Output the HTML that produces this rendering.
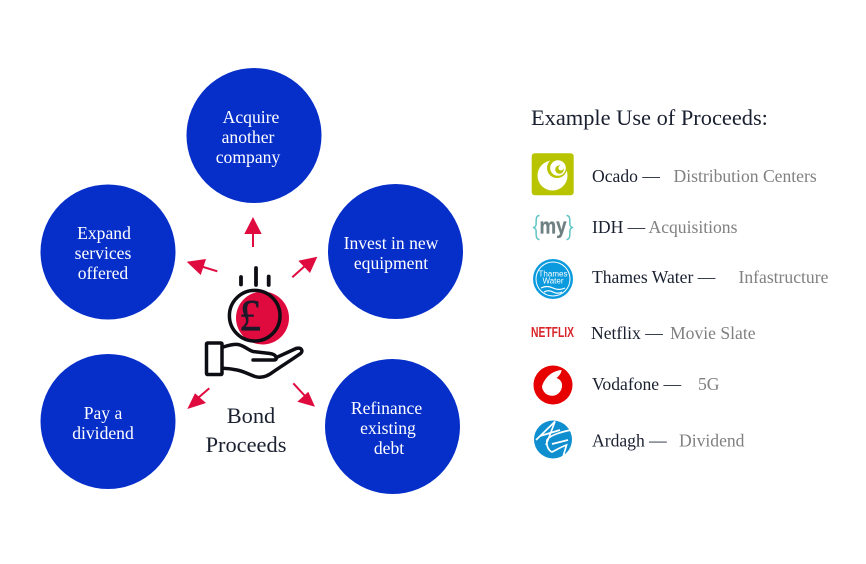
<!DOCTYPE html>
<html><head><meta charset="utf-8">
<style>
html,body{margin:0;padding:0;background:#fff}
svg{display:block}
text{font-family:"Liberation Serif",serif}
.c{fill:#fff;font-size:17.6px;text-anchor:middle}
.k{fill:#1a2030;font-size:17.6px}
.g{fill:#808080;font-size:17.6px}
</style></head><body>
<svg width="866" height="564" viewBox="0 0 866 564" xmlns="http://www.w3.org/2000/svg">
<rect width="866" height="564" fill="#fff"/>
<g fill="#062fc9">
<circle cx="254" cy="135.500" r="67.500"/>
<circle cx="108" cy="252" r="67.500"/>
<circle cx="395.500" cy="251.500" r="67.500"/>
<circle cx="108" cy="421.500" r="67.500"/>
<circle cx="392.500" cy="426.500" r="67.500"/>
</g>
<text class="c"><tspan x="251" y="123">Acquire</tspan><tspan x="248" y="143">another</tspan><tspan x="248" y="163">company</tspan></text>
<text class="c"><tspan x="104" y="239">Expand</tspan><tspan x="103" y="259">services</tspan><tspan x="103" y="279">offered</tspan></text>
<text class="c"><tspan x="391" y="249">Invest in new</tspan><tspan x="391" y="269">equipment</tspan></text>
<text class="c"><tspan x="103" y="419">Pay a</tspan><tspan x="103" y="439">dividend</tspan></text>
<text class="c"><tspan x="386.500" y="414">Refinance</tspan><tspan x="388" y="434">existing</tspan><tspan x="389" y="454">debt</tspan></text>

<!-- arrows -->
<g stroke="#df0a3e" stroke-width="2" fill="#df0a3e">
<line x1="253" y1="247" x2="253" y2="232"/>
<polygon points="253,217 244.300,234 261.700,234" stroke="none"/>
<line x1="217.300" y1="271.300" x2="200" y2="266"/>
<polygon points="186.700,261.700 206,259 200.700,275" stroke="none"/>
<line x1="292.300" y1="277.300" x2="306" y2="265"/>
<polygon points="317.300,256.700 298.300,260.700 310,273" stroke="none"/>
<line x1="209.300" y1="388.300" x2="198" y2="398"/>
<polygon points="187.300,409 195,393.300 206,403" stroke="none"/>
<line x1="293.300" y1="383.300" x2="305" y2="396"/>
<polygon points="315,406.700 308.300,391.700 297.300,401.700" stroke="none"/>
</g>

<!-- coin and hand -->
<circle cx="262.500" cy="318" r="26.500" fill="#df0a3e"/>
<circle cx="254.700" cy="315.700" r="25.300" fill="none" stroke="#0d0d14" stroke-width="3.500"/>
<g stroke="#0d0d14" stroke-width="3.800" stroke-linecap="round" fill="none">
<line x1="241" y1="277" x2="241" y2="284.500"/>
<line x1="256" y1="268" x2="256" y2="285"/>
<line x1="268.700" y1="276.500" x2="268.700" y2="285"/>
</g>
<text x="250" y="330" fill="#1a1a2a" stroke="#1a1a2a" stroke-width="0.500" text-anchor="middle" style="font-size:44px">£</text>
<rect x="206.500" y="343" width="15.500" height="31.500" rx="1" fill="#fff" stroke="#0d0d14" stroke-width="3.500"/>
<path d="M223.300 347 C228 345.500 233 344 238 344.500 C244 345.500 248 350 253 351.500 L270 353.500 C277 354.500 278 360 274 360 L253 360 M276 357.700 L296 348.500 C301.500 347 303.500 351 300.500 353.500 C293 359 280 367 273 372 C266 377.500 260 378 255 376.500 C248 374 243 371 237 370 C232 369 228 368.500 223 368.300" fill="none" stroke="#0d0d14" stroke-width="3.500" stroke-linecap="round" stroke-linejoin="round"/>

<text x="251" y="423" fill="#1a2030" text-anchor="middle" style="font-size:22.400px">Bond</text>
<text x="246" y="452" fill="#1a2030" text-anchor="middle" style="font-size:22.400px">Proceeds</text>

<!-- right title -->
<text x="531" y="125" fill="#1a2030" style="font-size:22.400px">Example Use of Proceeds:</text>

<!-- Ocado -->
<rect x="531.700" y="153.300" width="42" height="42" rx="3" fill="#b8c400"/>
<circle cx="552.500" cy="175.500" r="15" fill="#fff"/>
<circle cx="557" cy="168" r="10" fill="#b8c400"/>
<circle cx="558" cy="168" r="7.800" fill="#fff"/>
<circle cx="559.500" cy="169.500" r="4.300" fill="#b8c400"/>
<circle cx="561" cy="168" r="2.500" fill="#fff"/>
<text x="592" y="182" class="k">Ocado —</text>
<text x="673.500" y="182" class="g">Distribution Centers</text>

<!-- IDH -->
<text x="553" y="233.300" text-anchor="middle" fill="#6f8082" stroke="#6f8082" stroke-width="0.300" textLength="27" lengthAdjust="spacingAndGlyphs" style="font-family:'Liberation Sans',sans-serif;font-size:22px;font-weight:bold">my</text>
<path d="M539.500 215.500 C535 215.500 536.500 222 536 225 C535.500 227 534.500 227.500 532.800 227.500 C534.500 227.500 535.500 228.500 536 230 C536.500 233 535 239.500 539.500 239.500 M566.500 215.500 C571 215.500 569.500 222 570 225 C570.500 227 571.500 227.500 573.200 227.500 C571.500 227.500 570.500 228.500 570 230 C569.500 233 571 239.500 566.500 239.500" fill="none" stroke="#5fc4c4" stroke-width="1.500"/>
<text x="592" y="233" class="k">IDH —</text>
<text x="648.500" y="233" class="g">Acquisitions</text>

<!-- Thames -->
<circle cx="553" cy="279" r="20" fill="#0b9ade"/>
<circle cx="553" cy="279" r="17" fill="none" stroke="#fff" stroke-width="1"/>
<text x="553" y="276.500" text-anchor="middle" fill="#fff" style="font-family:'Liberation Sans',sans-serif;font-size:8px">Thames</text>
<text x="553" y="283.500" text-anchor="middle" fill="#fff" style="font-family:'Liberation Sans',sans-serif;font-size:8px">Water</text>
<path d="M541 288 q6 -3 12 0 t12 0 M544 292 q4.500 -2.500 9 0 t9 0" fill="none" stroke="#fff" stroke-width="1.200"/>
<text x="592" y="283" class="k">Thames Water —</text>
<text x="738.500" y="283" class="g">Infastructure</text>

<!-- Netflix -->
<text x="531" y="337" fill="#d9252a" textLength="43" lengthAdjust="spacingAndGlyphs" style="font-family:'Liberation Sans',sans-serif;font-size:15px;font-weight:bold">NETFLIX</text>
<text x="591" y="339" class="k">Netflix —</text>
<text x="670" y="339" class="g">Movie Slate</text>

<!-- Vodafone -->
<circle cx="553" cy="385" r="19.500" fill="#e60000"/>
<path d="M561.500 370 C553 370.500 544.500 377 542 386.500 A10 10 0 1 0 562 385 C562 381.500 559.500 379 556.500 378 C559 376 561.500 373 561.500 370Z" fill="#fff"/>
<text x="592" y="390" class="k">Vodafone —</text>
<text x="698" y="390" class="g">5G</text>

<!-- Ardagh -->
<circle cx="553" cy="439.500" r="19" fill="#0f8fd0"/>
<path d="M536 440 L555 421.500 L546 445 M540 436 L560 430 M571 430 C560 432 549 436 547 440 C546 446 549 451 552 452 C556 450 561 447 566.500 445 L563 457 M552 444 L568 440" fill="none" stroke="#fff" stroke-width="1.700"/>
<text x="592" y="446.500" class="k">Ardagh —</text>
<text x="679" y="446.500" class="g">Dividend</text>
</svg>
</body></html>
